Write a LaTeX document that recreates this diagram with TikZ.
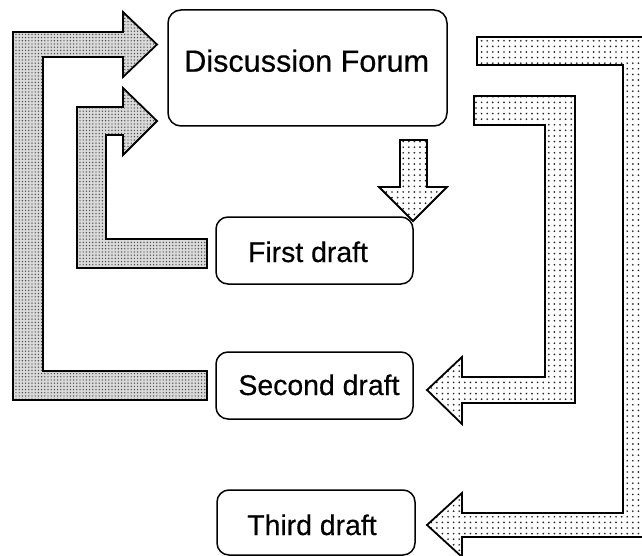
\documentclass[tikz,border=0pt]{standalone}
\usepackage{fontspec}
\setmainfont{Liberation Sans}
\newfontfamily\stagefont{Liberation Sans}[UprightFeatures={FakeBold=0.4}]
\usetikzlibrary{patterns.meta}

% dense grey stipple for the feedback bands on the left
\tikzdeclarepattern{
  name=finedots, type=uncolored,
  bottom left={(-.8pt,-.8pt)}, top right={(.8pt,.8pt)},
  tile size={(3.2pt,3.2pt)},
  code={\fill (0,0) circle (.7pt);}
}
% open dot grid for the bands on the right
\tikzdeclarepattern{
  name=opendots, type=uncolored,
  bottom left={(-1.2pt,-1.2pt)}, top right={(1.2pt,1.2pt)},
  tile size={(5.6pt,5.6pt)},
  code={\fill (0,0) circle (.95pt);}
}

\begin{document}
\begin{tikzpicture}[x=1pt,y=-1pt,
  stagebox/.style={draw, line width=1.5pt, rounded corners=12pt, inner sep=0pt},
  lbl/.style={anchor=base, inner sep=0pt, font=\stagefont\fontsize{28.4}{34}\selectfont},
  leftband/.style={draw, line width=1.8pt, line join=miter,
    preaction={fill=gray!30}, pattern={finedots}, pattern color=black!75},
  rightband/.style={draw, line width=1.8pt, line join=miter,
    preaction={fill=white}, pattern={opendots}, pattern color=black!85}]

\useasboundingbox (0,0) rectangle (642,556);
\clip (0,0) rectangle (642,556);

% stages
\node[stagebox, minimum width=279pt, minimum height=116pt, rounded corners=13pt] (forum) at (307.5,68) {};
\node[lbl, font=\stagefont\fontsize{30.6}{36}\selectfont] (forumtxt) at (306.7,71.7) {Discussion Forum};

\node[stagebox, minimum width=197pt, minimum height=67pt] (first) at (314.5,250.5) {};
\node[lbl] (firsttxt) at (308,262) {First draft};

\node[stagebox, minimum width=197pt, minimum height=67pt] (second) at (314.5,385.5) {};
\node[lbl] (secondtxt) at (319,395) {Second draft};

\node[stagebox, minimum width=198pt, minimum height=65pt] (third) at (316,522.5) {};
\node[lbl] (thirdtxt) at (312,535) {Third draft};

% second draft back to the forum (outer left band)
\draw[leftband] (207,371) -- (43,371) -- (43,57) -- (123,57) -- (123,77)
  -- (157,44.5) -- (123,12) -- (123,32) -- (13,32) -- (13,400) -- (207,400) -- cycle;

% first draft back to the forum (inner left band)
\draw[leftband] (207,239) -- (106,239) -- (106,135) -- (123,135) -- (123,155)
  -- (157,121) -- (123,88) -- (123,107) -- (77,107) -- (77,268) -- (207,268) -- cycle;

% forum down to the first draft
\draw[rightband] (400,140) -- (427,140) -- (427,187) -- (447,187) -- (413,221)
  -- (379,187) -- (400,187) -- cycle;

% forum to the second draft (inner right band)
\draw[rightband] (474,96) -- (575,96) -- (575,403) -- (462,403) -- (462,424)
  -- (427,390) -- (462,357) -- (462,377) -- (545,377) -- (545,125) -- (474,125) -- cycle;

% forum to the third draft (outer right band)
\draw[rightband] (477,37) -- (652,37) -- (652,537) -- (462,537) -- (462,557)
  -- (427,525) -- (462,493) -- (462,513) -- (623,513) -- (623,65) -- (477,65) -- cycle;

\end{tikzpicture}
\end{document}
